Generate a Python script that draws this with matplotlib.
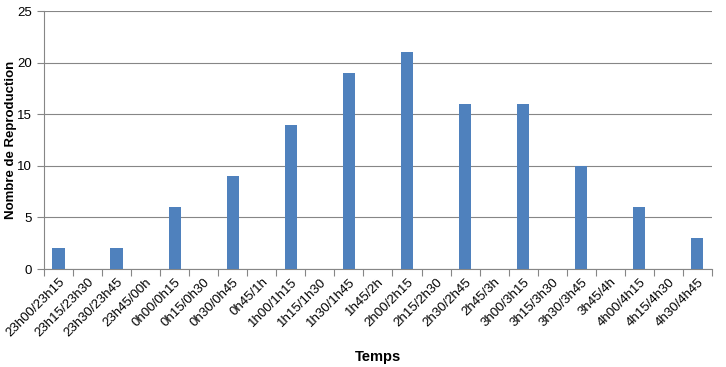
import numpy as np
import matplotlib
matplotlib.use('Agg')
import matplotlib.pyplot as plt

plt.rcParams['font.family'] = ['Liberation Sans', 'DejaVu Sans']

creneaux = ['23h00/23h15', '23h15/23h30', '23h30/23h45', '23h45/00h',
            '0h00/0h15', '0h15/0h30', '0h30/0h45', '0h45/1h',
            '1h00/1h15', '1h15/1h30', '1h30/1h45', '1h45/2h',
            '2h00/2h15', '2h15/2h30', '2h30/2h45', '2h45/3h',
            '3h00/3h15', '3h15/3h30', '3h30/3h45', '3h45/4h',
            '4h00/4h15', '4h15/4h30', '4h30/4h45']
reproductions = [2, 0, 2, 0, 6, 0, 9, 0, 14, 0, 19, 0, 21, 0, 16, 0,
                 16, 0, 10, 0, 6, 0, 3]

fig = plt.figure(figsize=(7.26, 3.67), dpi=100)
ax = fig.add_axes([0.0606, 0.267, 0.92, 0.703])

x = np.arange(len(creneaux))
ax.bar(x, reproductions, width=0.42, color='#4F81BD', zorder=3)

ax.set_xlim(-0.5, len(creneaux) - 0.5)
ax.set_ylim(0, 25)
ax.set_yticks(range(0, 26, 5))
ax.yaxis.grid(True, color='#868686', linewidth=0.8, zorder=0)

# ticks between categories, labels centred on the bars
ax.set_xticks(np.arange(-0.5, len(creneaux), 1.0))
ax.set_xticklabels([])
ax.set_xticks(x, minor=True)
ax.set_xticklabels(creneaux, minor=True, rotation=45, ha='right',
                   rotation_mode='anchor', fontsize=9.5)
ax.tick_params(axis='x', which='minor', length=0, pad=5)
ax.tick_params(axis='x', which='major', length=5, color='#868686')
ax.tick_params(axis='y', length=5, color='#868686', labelsize=9.5)

for side in ['top', 'right']:
    ax.spines[side].set_visible(False)
ax.spines['left'].set_color('#868686')
ax.spines['bottom'].set_color('#868686')

ax.set_ylabel('Nombre de Reproduction', fontsize=9.5, fontweight='bold')
ax.yaxis.set_label_coords(-0.04, 0.5)
ax.set_xlabel('Temps', fontsize=10.5, fontweight='bold', labelpad=8)

fig.savefig('out.png', dpi=100)
